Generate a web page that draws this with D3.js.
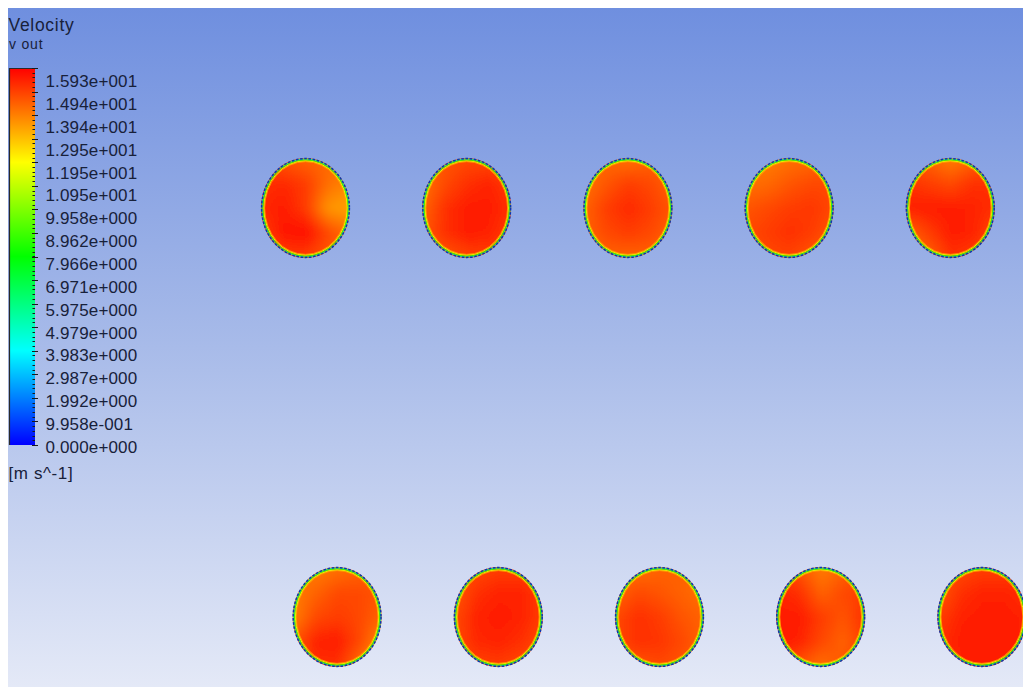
<!DOCTYPE html>
<html>
<head>
<meta charset="utf-8">
<script src="https://cdn.jsdelivr.net/npm/d3@7"></script>
<style>
  html, body { margin: 0; padding: 0; background: #ffffff; }
  svg { display: block; }
  text { font-family: "Liberation Sans", Arial, sans-serif; fill: #18213a; }
</style>
</head>
<body>
<svg id="chart" width="1023" height="687"></svg>
<script>
// ---- Velocity legend ----
const variableName = "Velocity";
const locationName = "v out";
const unitLabel = "[m s^-1]";
const vMin = 0.0;
const vMax = 15.93;
const tickLabels = [
  "1.593e+001", "1.494e+001", "1.394e+001", "1.295e+001", "1.195e+001",
  "1.095e+001", "9.958e+000", "8.962e+000", "7.966e+000", "6.971e+000",
  "5.975e+000", "4.979e+000", "3.983e+000", "2.987e+000", "1.992e+000",
  "9.958e-001", "0.000e+000"
];

// ---- Outlet layout on the plane (pitch units) ----
const topRowX = [0, 1, 2, 3, 4];
const bottomRowX = [0.196, 1.196, 2.196, 3.196, 4.196];

// ---- Core velocity samples per outlet (5x5, rows top→bottom, m/s) ----
const topOutlet1 = [
  [14.8, 14.6, 14.4, 14.3, 14.2],
  [15.2, 15.3, 15.0, 14.2, 13.8],
  [15.3, 15.5, 15.0, 13.6, 13.4],
  [15.0, 15.6, 15.7, 14.8, 14.2],
  [14.6, 15.0, 15.0, 14.6, 14.2]
];
const topOutlet2 = [
  [14.4, 14.6, 14.8, 14.8, 14.6],
  [14.2, 14.8, 15.2, 15.4, 15.0],
  [14.4, 15.2, 15.5, 15.5, 15.2],
  [14.6, 15.2, 15.5, 15.4, 15.0],
  [14.4, 14.6, 14.9, 15.0, 14.8]
];
const topOutlet3 = [
  [14.2, 14.3, 14.2, 14.4, 14.4],
  [14.2, 14.6, 15.0, 14.8, 14.4],
  [14.4, 15.0, 15.3, 15.0, 14.6],
  [14.4, 14.8, 15.0, 14.8, 14.4],
  [14.2, 14.4, 14.4, 14.4, 14.2]
];
const topOutlet4 = [
  [14.0, 14.0, 14.2, 14.3, 14.4],
  [14.2, 14.3, 14.6, 14.8, 14.8],
  [14.6, 14.8, 15.0, 15.1, 14.8],
  [14.8, 15.0, 15.2, 15.0, 14.6],
  [14.4, 14.8, 14.9, 14.6, 14.4]
];
const topOutlet5 = [
  [14.6, 14.4, 14.0, 14.4, 14.8],
  [15.2, 15.0, 14.8, 15.2, 15.2],
  [15.4, 15.5, 15.5, 15.4, 15.2],
  [14.4, 15.0, 15.5, 15.4, 14.8],
  [14.0, 14.4, 15.2, 15.0, 14.6]
];
const bottomOutlet1 = [
  [14.2, 14.0, 14.2, 14.4, 14.4],
  [14.0, 14.4, 14.8, 14.8, 14.6],
  [14.0, 14.8, 15.0, 14.8, 14.4],
  [14.6, 15.4, 15.5, 14.8, 13.8],
  [14.4, 15.2, 15.2, 14.2, 13.4]
];
const bottomOutlet2 = [
  [14.6, 14.8, 15.0, 15.0, 14.8],
  [14.6, 15.2, 15.4, 15.4, 15.0],
  [14.8, 15.4, 15.5, 15.4, 15.0],
  [14.8, 15.3, 15.4, 15.2, 14.8],
  [14.6, 14.9, 15.0, 14.8, 14.6]
];
const bottomOutlet3 = [
  [14.2, 14.2, 14.4, 14.4, 14.2],
  [14.4, 14.8, 14.6, 14.4, 14.2],
  [14.8, 15.2, 15.0, 14.6, 14.4],
  [14.8, 15.2, 15.1, 14.8, 14.4],
  [14.4, 14.6, 14.8, 14.6, 14.2]
];
const bottomOutlet4 = [
  [15.0, 14.6, 14.0, 14.4, 14.6],
  [15.4, 15.2, 14.4, 14.8, 15.0],
  [15.5, 15.5, 15.0, 14.6, 15.2],
  [15.5, 15.4, 14.8, 14.4, 15.0],
  [15.0, 14.6, 14.2, 14.6, 14.8]
];
const bottomOutlet5 = [
  [14.6, 14.8, 15.0, 15.0, 15.0],
  [14.6, 15.2, 15.4, 15.4, 15.2],
  [15.0, 15.4, 15.5, 15.5, 15.4],
  [15.2, 15.5, 15.5, 15.5, 15.4],
  [15.0, 15.4, 15.5, 15.4, 15.2]
];
// Near-wall band values, from inside toward the wall (m/s)
const wallBandValues = [13.4, 11.6, 8.6, 5.6];

const outlets = [
  { row: 0, x: topRowX[0], field: topOutlet1 },
  { row: 0, x: topRowX[1], field: topOutlet2 },
  { row: 0, x: topRowX[2], field: topOutlet3 },
  { row: 0, x: topRowX[3], field: topOutlet4 },
  { row: 0, x: topRowX[4], field: topOutlet5 },
  { row: 1, x: bottomRowX[0], field: bottomOutlet1 },
  { row: 1, x: bottomRowX[1], field: bottomOutlet2 },
  { row: 1, x: bottomRowX[2], field: bottomOutlet3 },
  { row: 1, x: bottomRowX[3], field: bottomOutlet4 },
  { row: 1, x: bottomRowX[4], field: bottomOutlet5 }
];

// ---- Drawing ----
const W = 1023, H = 687;
const svg = d3.select("#chart");
const defs = svg.append("defs");

// Rainbow colour map (blue → cyan → green → yellow → red)
const colorScale = d3.scaleLinear()
  .domain([0, 0.25, 0.5, 0.75, 1].map(f => vMin + f * (vMax - vMin)))
  .range(["#0000ff", "#00ffff", "#00ff00", "#ffff00", "#ff0000"])
  .interpolate(d3.interpolateRgb)
  .clamp(true);

// Viewport background
svg.append("rect").attr("width", W).attr("height", H).attr("fill", "#ffffff");
const bg = defs.append("linearGradient").attr("id", "bg")
  .attr("x1", 0).attr("y1", 0).attr("x2", 0).attr("y2", 1);
bg.append("stop").attr("offset", "0%").attr("stop-color", "#6f8fdf");
bg.append("stop").attr("offset", "50%").attr("stop-color", "#a8bbe9");
bg.append("stop").attr("offset", "100%").attr("stop-color", "#e4e9f7");
svg.append("rect").attr("x", 8).attr("y", 8).attr("width", W - 8).attr("height", H - 8)
  .attr("fill", "url(#bg)");

// Plane coordinates → screen
const xScale = d3.scaleLinear().domain([0, 4]).range([305.5, 950.3]);
const yScale = d3.scaleLinear().domain([0, 1]).range([208, 617]);
const rx = 44.5, ry = 50;

defs.append("filter").attr("id", "soft")
  .attr("x", "-10%").attr("y", "-10%").attr("width", "120%").attr("height", "120%")
  .append("feGaussianBlur").attr("stdDeviation", 4);
defs.append("filter").attr("id", "bandBlur")
  .attr("x", "-10%").attr("y", "-10%").attr("width", "120%").attr("height", "120%")
  .append("feGaussianBlur").attr("stdDeviation", 0.6);

function fieldImage(field) {
  const n = field.length, m = field[0].length;
  const cv = document.createElement("canvas");
  cv.width = m; cv.height = n;
  const ctx = cv.getContext("2d");
  const img = ctx.createImageData(m, n);
  field.forEach((row, j) => row.forEach((v, i) => {
    const c = d3.rgb(colorScale(v));
    const k = (j * m + i) * 4;
    img.data[k] = c.r; img.data[k + 1] = c.g; img.data[k + 2] = c.b; img.data[k + 3] = 255;
  }));
  ctx.putImageData(img, 0, 0);
  return cv.toDataURL();
}

const plane = svg.append("g");
outlets.forEach((o, idx) => {
  const cx = xScale(o.x), cy = yScale(o.row);
  const clipId = "clip" + idx;
  defs.append("clipPath").attr("id", clipId)
    .append("ellipse").attr("cx", cx).attr("cy", cy).attr("rx", rx).attr("ry", ry);

  const g = plane.append("g");
  g.append("g").attr("clip-path", `url(#${clipId})`)
    .append("image")
    .attr("href", fieldImage(o.field))
    .attr("x", cx - rx - 10).attr("y", cy - ry - 10)
    .attr("width", 2 * rx + 20).attr("height", 2 * ry + 20)
    .attr("preserveAspectRatio", "none")
    .attr("filter", "url(#soft)");

  // near-wall boundary layer bands
  const bands = g.append("g").attr("clip-path", `url(#${clipId})`)
    .append("g").attr("filter", "url(#bandBlur)");
  wallBandValues.forEach((v, k) => {
    const d = 3.6 - k * 0.9;
    bands.append("ellipse")
      .attr("cx", cx).attr("cy", cy).attr("rx", rx - d).attr("ry", ry - d)
      .attr("fill", "none").attr("stroke", colorScale(v))
      .attr("stroke-width", 1.0).attr("stroke-opacity", 0.9);
  });

  // wall cells (lowest velocity)
  g.append("ellipse")
    .attr("cx", cx).attr("cy", cy).attr("rx", rx - 0.6).attr("ry", ry - 0.6)
    .attr("fill", "none").attr("stroke", "#0d36b0").attr("stroke-width", 1.5)
    .attr("stroke-dasharray", "2.6 1.6");
});

// ---- Legend ----
const legend = svg.append("g");
legend.append("text").attr("x", 8.5).attr("y", 30.5)
  .attr("font-size", 17.5).attr("letter-spacing", 0.7).text(variableName);
legend.append("text").attr("x", 9).attr("y", 49)
  .attr("font-size", 14).attr("letter-spacing", 0.8).text(locationName);

const barX = 9, barW = 26, barTop = 68, barBottom = 445;
const barScale = d3.scaleLinear().domain([vMin, vMax]).range([barBottom, barTop]);
const cbGrad = defs.append("linearGradient").attr("id", "cb")
  .attr("x1", 0).attr("y1", 1).attr("x2", 0).attr("y2", 0);
colorScale.domain().forEach((v, i) => {
  cbGrad.append("stop").attr("offset", (i * 25) + "%").attr("stop-color", colorScale.range()[i]);
});
legend.append("rect").attr("x", barX).attr("y", barTop)
  .attr("width", barW).attr("height", barBottom - barTop).attr("fill", "url(#cb)");
legend.append("path")
  .attr("d", `M${barX + 0.5},${barBottom} V${barTop + 0.5} H${barX + barW}`)
  .attr("fill", "none").attr("stroke", "#2a2a2a").attr("stroke-width", 1.2);

// minor and major ticks on the right side of the bar
const minorTicks = d3.range(0, 81).map(i => vMin + i * (vMax - vMin) / 80);
legend.append("g").selectAll("line").data(minorTicks).join("line")
  .attr("x1", barX + barW - 2.5).attr("x2", barX + barW)
  .attr("y1", d => Math.round(barScale(d)) + 0.5).attr("y2", d => Math.round(barScale(d)) + 0.5)
  .attr("stroke", "#1a1a1a").attr("stroke-width", 1);
const majorTicks = d3.range(0, 17).map(i => vMin + i * (vMax - vMin) / 16);
legend.append("g").selectAll("line").data(majorTicks).join("line")
  .attr("x1", barX + barW - 3).attr("x2", barX + barW + 3)
  .attr("y1", d => Math.round(barScale(d)) + 0.5).attr("y2", d => Math.round(barScale(d)) + 0.5)
  .attr("stroke", "#1a1a1a").attr("stroke-width", 1);

// tick labels
const labelScale = d3.scaleLinear().domain([0, tickLabels.length - 1]).range([87.3, 452.7]);
legend.append("g").selectAll("text").data(tickLabels).join("text")
  .attr("x", 45.5).attr("y", (d, i) => labelScale(i))
  .attr("font-size", 17).attr("letter-spacing", 0.15)
  .text(d => d);

legend.append("text").attr("x", 8.5).attr("y", 479)
  .attr("font-size", 17).attr("letter-spacing", 0.6).text(unitLabel);
</script>
</body>
</html>
